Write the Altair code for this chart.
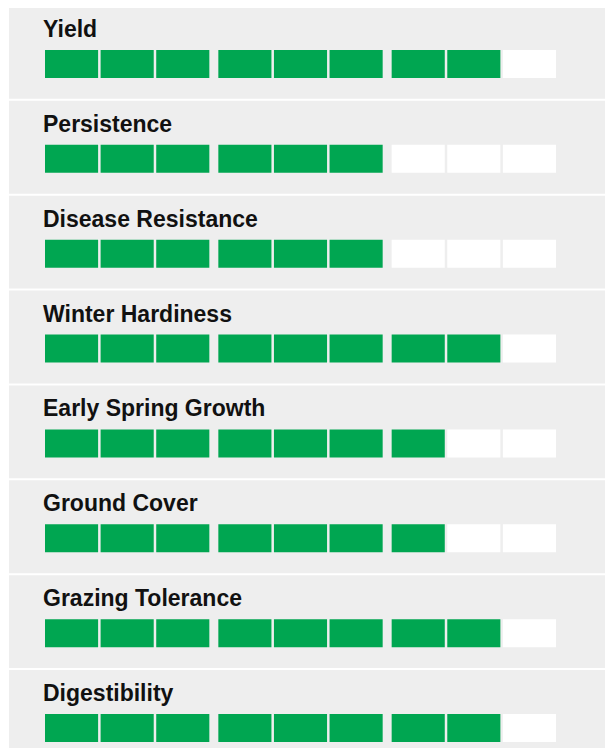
import altair as alt
import pandas as pd

categories = ["Yield", "Persistence", "Disease Resistance", "Winter Hardiness",
              "Early Spring Growth", "Ground Cover", "Grazing Tolerance", "Digestibility"]
scores = [8, 6, 6, 8, 7, 7, 8, 8]
groups = [0, 1, 2]
slots = [0, 1, 2]

rows = []
for c, s in zip(categories, scores):
    for g in groups:
        for p in slots:
            idx = g * 3 + p + 1
            rows.append({"trait": c, "group": g, "slot": p,
                         "state": "filled" if idx <= s else "empty"})
cells = pd.DataFrame(rows)
labels = pd.DataFrame({"trait": categories, "group": [0] * len(categories)})

W = 596
H = 740
step = 94.86
gap = 2.0
pin = gap / step
R = step * (len(categories) - pin)

y_scale = alt.Scale(domain=categories, range=[-2, -2 + R], paddingInner=pin, paddingOuter=0)
x_scale = alt.Scale(domain=groups, range=[36, 547], paddingInner=9 / 173.5, paddingOuter=0)
xo_scale = alt.Scale(domain=slots, paddingInner=2.5 / 55.5, paddingOuter=0)

panels = alt.Chart(labels).mark_rect(color="#eeeeee").encode(
    y=alt.Y("trait:N", scale=y_scale, axis=None)
)

bars = alt.Chart(cells).mark_rect(height=28, yOffset=11.57).encode(
    x=alt.X("group:O", scale=x_scale, axis=None),
    xOffset=alt.XOffset("slot:O", scale=xo_scale),
    y=alt.Y("trait:N", scale=y_scale, axis=None),
    color=alt.Color("state:N", scale=alt.Scale(domain=["filled", "empty"],
                                               range=["#00a651", "#ffffff"]), legend=None),
)

text = alt.Chart(labels).mark_text(
    align="left", baseline="alphabetic", font="Liberation Sans", fontWeight="bold",
    fontSize=23, dx=-2, dy=-15.43, color="#111111"
).encode(
    x=alt.X("group:O", scale=x_scale, axis=None, bandPosition=0),
    y=alt.Y("trait:N", scale=y_scale, axis=None),
    text="trait:N",
)

chart = alt.layer(panels, bars, text).properties(
    width=W, height=H,
    autosize=alt.AutoSizeParams(type="none"),
    padding={"left": 1, "top": 0, "right": 0, "bottom": 0},
    background="#ffffff",
).configure_view(stroke=None)

chart.save("out.html", embed_options={"renderer": "svg", "actions": False})
